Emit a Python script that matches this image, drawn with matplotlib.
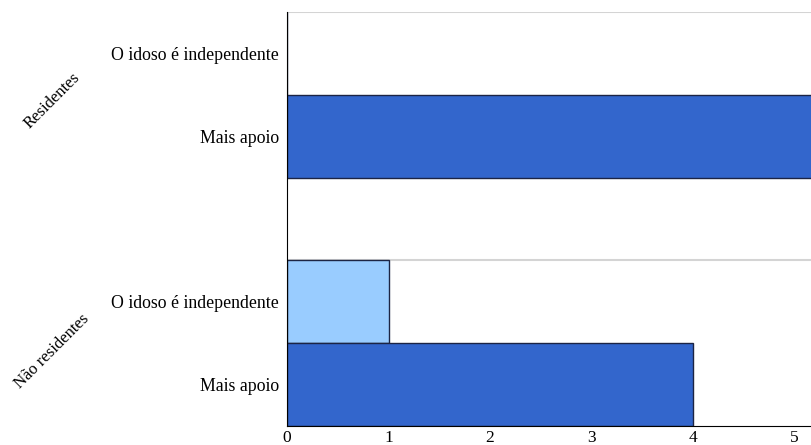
import numpy as np
import matplotlib.pyplot as plt

plt.rcParams['font.family'] = ['Liberation Serif', 'DejaVu Serif']

groups = ["Residentes", "Não residentes"]
categories = ["O idoso é independente", "Mais apoio"]
residentes = [0, 6]
nao_residentes = [1, 4]
x_ticks = [0, 1, 2, 3, 4, 5, 6]

dark = '#3366cc'
light = '#99ccff'
edge = '#1c2444'

fig = plt.figure(figsize=(8.11, 4.45), dpi=100)
# axis runs past the right edge of the picture (chart is cropped)
ax = fig.add_axes([287/811, 19/445, 6*101.5/811, 414/445])

# slots from top: res/indep, res/apoio, gap, nao/indep, nao/apoio
pos_res = np.array([0, 1])
pos_nao = np.array([3, 4])
cols = [light, dark]

ax.barh(pos_res, residentes, height=1.0, color=cols, edgecolor=edge, lw=1.0)
ax.barh(pos_nao, nao_residentes, height=1.0, color=cols, edgecolor=edge, lw=1.0)

# panel top lines
for y in [pos_res[0] - 0.5, pos_nao[0] - 0.5]:
    ax.axhline(y, color='#d4d4d4', lw=1.5, zorder=0)

ax.set_ylim(4.5, -0.5)
ax.set_xlim(0, 6)
ax.set_yticks(np.concatenate([pos_res, pos_nao]))
ax.set_yticklabels(categories + categories, fontsize=12.8)
ax.set_xticks(x_ticks)
ax.set_xticklabels([str(t) for t in x_ticks], fontsize=12.5)
ax.tick_params(axis='y', length=0, pad=6)
ax.tick_params(axis='x', length=0, pad=3)

for s in ['top', 'right']:
    ax.spines[s].set_visible(False)
ax.spines['left'].set_color('black')
ax.spines['bottom'].set_color('black')

fig.text(52/811, 1 - 101/445, groups[0], rotation=45, ha='center', va='center',
         fontsize=12, rotation_mode='anchor')
fig.text(52/811, 1 - 351/445, groups[1], rotation=45, ha='center', va='center',
         fontsize=12, rotation_mode='anchor')

fig.savefig('out.png', dpi=100)
